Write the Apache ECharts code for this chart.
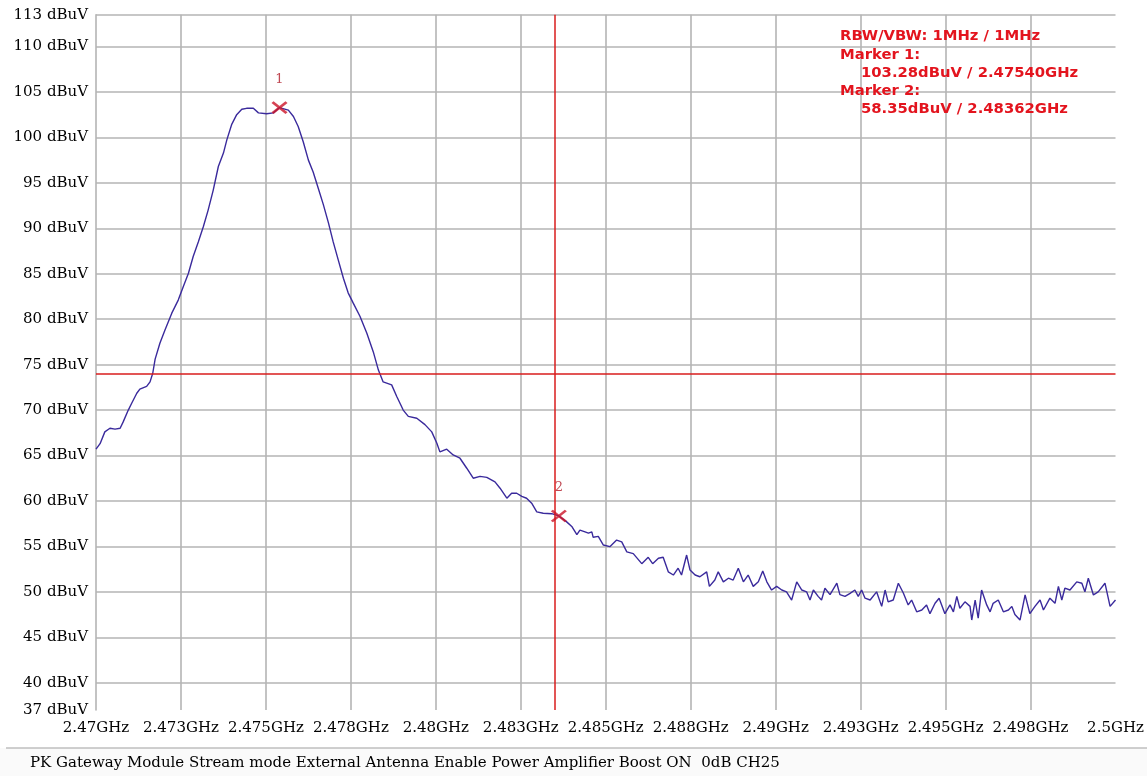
<!DOCTYPE html>
<html>
<head>
<meta charset="utf-8">
<script src="https://cdn.jsdelivr.net/npm/echarts@6/dist/echarts.min.js"></script>
<style>html,body{margin:0;padding:0;background:#fff;}#c{width:1147px;height:776px;}</style>
</head>
<body>
<div id="c"></div>
<script>
// ---- data ----
const freqGHz = [2.47000,2.47012,2.47026,2.47041,2.47056,2.47071,2.47080,2.47095,2.47105,2.47120,2.47129,2.47149,2.47159,2.47167,2.47174,2.47188,2.47203,2.47223,2.47242,2.47257,2.47272,2.47286,2.47301,2.47316,2.47330,2.47345,2.47360,2.47375,2.47385,2.47399,2.47414,2.47429,2.47443,2.47463,2.47478,2.47502,2.47522,2.47540,2.47566,2.47581,2.47595,2.47610,2.47625,2.47639,2.47654,2.47669,2.47684,2.47698,2.47713,2.47728,2.47742,2.47757,2.47777,2.47797,2.47816,2.47831,2.47845,2.47870,2.47885,2.47904,2.47919,2.47944,2.47968,2.47988,2.48003,2.48012,2.48032,2.48051,2.48071,2.48091,2.48110,2.48130,2.48150,2.48174,2.48179,2.48189,2.48209,2.48223,2.48238,2.48253,2.48267,2.48282,2.48297,2.48316,2.48341,2.48362,2.48385,2.48400,2.48415,2.48424,2.48439,2.48449,2.48459,2.48463,2.48478,2.48493,2.48512,2.48532,2.48547,2.48562,2.48581,2.48606,2.48625,2.48638,2.48655,2.48669,2.48684,2.48699,2.48713,2.48723,2.48738,2.48748,2.48763,2.48777,2.48797,2.48805,2.48821,2.48831,2.48846,2.48861,2.48875,2.48890,2.48905,2.48919,2.48934,2.48949,2.48962,2.48974,2.48988,2.49003,2.49018,2.49032,2.49047,2.49062,2.49077,2.49091,2.49101,2.49111,2.49125,2.49135,2.49145,2.49160,2.49180,2.49189,2.49204,2.49219,2.49233,2.49243,2.49253,2.49263,2.49278,2.49297,2.49312,2.49322,2.49331,2.49346,2.49361,2.49376,2.49390,2.49400,2.49415,2.49430,2.49444,2.49454,2.49469,2.49481,2.49498,2.49513,2.49523,2.49533,2.49542,2.49557,2.49572,2.49577,2.49587,2.49596,2.49606,2.49621,2.49631,2.49640,2.49655,2.49670,2.49685,2.49695,2.49704,2.49719,2.49734,2.49748,2.49763,2.49778,2.49788,2.49807,2.49822,2.49832,2.49842,2.49851,2.49866,2.49886,2.49901,2.49910,2.49920,2.49935,2.49949,2.49969,2.49984,2.50000];
const levelDbuv = [65.7,66.3,67.6,68.0,67.9,68.0,68.7,70.0,70.75,71.85,72.3,72.6,73.1,74.05,75.6,77.35,78.8,80.66,82.1,83.6,85.06,86.9,88.5,90.2,92.0,94.2,96.8,98.27,99.73,101.4,102.5,103.1,103.2,103.2,102.7,102.6,102.7,103.28,103.0,102.3,101.2,99.5,97.5,96.2,94.4,92.6,90.6,88.5,86.5,84.5,82.9,81.76,80.3,78.45,76.4,74.4,73.1,72.77,71.5,70.0,69.3,69.1,68.4,67.6,66.35,65.4,65.7,65.06,64.7,63.6,62.5,62.7,62.6,62.1,62.3,61.4,60.3,60.85,60.85,60.5,60.3,59.75,58.8,58.65,58.6,58.35,57.7,57.2,56.3,56.8,56.6,56.45,56.6,56.0,56.1,55.15,54.97,55.7,55.5,54.4,54.2,53.1,53.8,53.1,53.7,53.8,52.2,51.85,52.6,51.85,54.05,52.4,51.85,51.66,52.2,50.6,51.3,52.2,51.1,51.5,51.3,52.6,51.1,51.85,50.6,51.1,52.3,51.1,50.2,50.6,50.2,50.0,49.1,51.1,50.2,50.0,49.1,50.2,49.5,49.1,50.4,49.7,50.95,49.7,49.5,49.84,50.2,49.5,50.2,49.3,49.1,50.0,48.4,50.2,48.9,49.1,50.95,49.84,48.56,49.1,47.8,48.0,48.56,47.6,48.74,49.3,47.6,48.56,47.8,49.5,48.2,48.9,48.4,46.9,49.1,47.1,50.2,48.56,47.8,48.74,49.1,47.8,48.0,48.4,47.5,46.9,49.66,47.6,48.4,49.1,48.0,49.3,48.74,50.6,49.1,50.4,50.2,51.1,50.95,50.0,51.5,49.66,50.0,50.95,48.4,49.1];
const markerPoints = [[2.47540, 103.28], [2.48362, 58.35]];
const markerNames = ['1', '2'];
const limitDbuv = 74;
const markerLineGHz = 2.4835;
const yLabelValues = [37,40,45,50,55,60,65,70,75,80,85,90,95,100,105,110,113.5];
const yLabelTexts = ['37','40','45','50','55','60','65','70','75','80','85','90','95','100','105','110','113'];
const yGridValues = [40,45,50,55,60,65,70,75,80,85,90,95,100,105,110,113.5];
const xLabelValues = [2.47,2.4725,2.475,2.4775,2.48,2.4825,2.485,2.4875,2.49,2.4925,2.495,2.4975,2.5];
const xLabelTexts = ['2.47GHz','2.473GHz','2.475GHz','2.478GHz','2.48GHz','2.483GHz','2.485GHz','2.488GHz','2.49GHz','2.493GHz','2.495GHz','2.498GHz','2.5GHz'];
const xGridValues = [2.4725,2.475,2.4775,2.48,2.4825,2.485,2.4875,2.49,2.4925,2.495,2.4975];
const infoLines = ['RBW/VBW: 1MHz / 1MHz','Marker 1:','103.28dBuV / 2.47540GHz','Marker 2:','58.35dBuV / 2.48362GHz'];
const caption = 'PK Gateway Module Stream mode External Antenna Enable Power Amplifier Boost ON  0dB CH25';

const chart = echarts.init(document.getElementById('c'), null, {renderer: 'canvas'});
const gridColor = '#b4b4b4';
const serif = 'DejaVu Serif';
const lineData = freqGHz.map((f, i) => [f, levelDbuv[i]]);
const infoIndent = [0, 0, 1, 0, 1];
const yMin = 37, yMax = 113.5;

const option = {
  animation: false,
  backgroundColor: '#fff',
  grid: {left: 96, right: 31.5, top: 14.7, bottom: 66, containLabel: false},
  xAxis: {
    type: 'value', min: 2.47, max: 2.5,
    axisLine: {show: false},
    axisTick: {show: false, customValues: xGridValues},
    axisLabel: {
      customValues: xLabelValues, margin: 11,
      fontFamily: serif, fontSize: 15, color: '#000',
      formatter: v => { const i = xLabelValues.findIndex(t => Math.abs(t - v) < 1e-7); return i >= 0 ? xLabelTexts[i] : ''; }
    },
    splitLine: {show: true, lineStyle: {color: gridColor, width: 1.6}}
  },
  yAxis: {
    type: 'value', min: yMin, max: yMax,
    axisLine: {show: true, lineStyle: {color: gridColor, width: 1.6}},
    axisTick: {show: false, customValues: yGridValues},
    axisLabel: {
      customValues: yLabelValues, margin: 8,
      fontFamily: serif, fontSize: 15, color: '#000',
      formatter: v => { const i = yLabelValues.findIndex(t => Math.abs(t - v) < 1e-7); return i >= 0 ? yLabelTexts[i] + ' dBuV' : ''; }
    },
    splitLine: {show: true, lineStyle: {color: gridColor, width: 1.6}}
  },
  series: [
    {
      type: 'line', data: lineData, showSymbol: false, symbol: 'none',
      lineStyle: {color: '#3a2a9c', width: 1.4}, z: 3,
      markLine: {
        silent: true, symbol: 'none', label: {show: false}, precision: 6,
        lineStyle: {color: '#d81c1c', width: 1.5, type: 'solid'},
        data: [
          [{coord: [2.47, limitDbuv]}, {coord: [2.5, limitDbuv]}],
          [{coord: [markerLineGHz, yMin]}, {coord: [markerLineGHz, yMax]}]
        ]
      }
    },
    {
      type: 'scatter', z: 5,
      data: markerPoints.map((p, i) => ({value: p, name: markerNames[i]})),
      symbol: 'path://M0,0L10,10M10,0L0,10', symbolSize: [14, 11],
      itemStyle: {color: 'none', borderColor: '#cc1428', borderWidth: 2.6},
      label: {show: true, position: 'top', distance: 14, formatter: p => p.name,
        fontFamily: serif, fontSize: 13, color: '#b01c28'}
    }
  ],
  graphic: [
    {type: 'rect', shape: {x: 0, y: 748, width: 1147, height: 28}, style: {fill: '#fafafa'}, z: 0},
    {type: 'line', shape: {x1: 6, y1: 748, x2: 1147, y2: 748}, style: {stroke: '#a0a0a0', lineWidth: 1.2}, z: 1},
    {type: 'text', x: 30, y: 763, style: {text: caption, font: '15px "DejaVu Serif"', fill: '#000', textVerticalAlign: 'middle'}, z: 2}
  ].concat(infoLines.map((t, i) => ({
    type: 'text', x: infoIndent[i] ? 861 : 840, y: 36.5 + i * 18.2, z: 10,
    style: {text: t, font: 'bold 14.8px "DejaVu Sans"', fill: '#e3141e', textVerticalAlign: 'middle'}
  })))
};
chart.setOption(option);
</script>
</body>
</html>
